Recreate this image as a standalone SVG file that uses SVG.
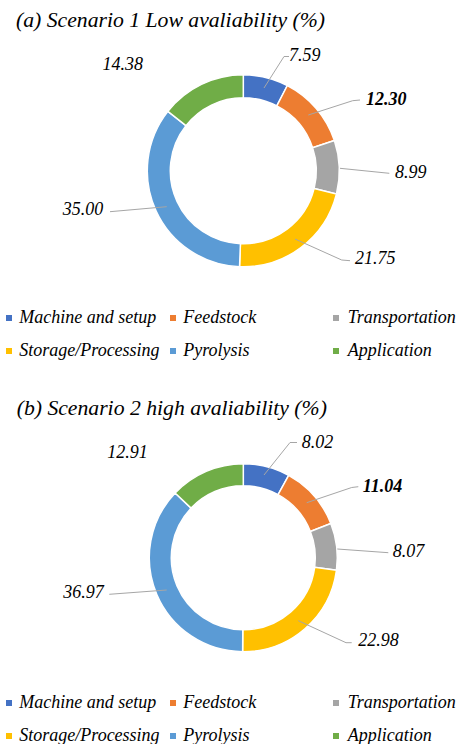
<svg xmlns="http://www.w3.org/2000/svg" width="460" height="744" viewBox="0 0 460 744">
<style>
text{font-family:'Liberation Serif','Times New Roman',Times,'DejaVu Serif',serif;font-style:italic;fill:#000}
.title{font-size:21.7px}
.lbl{font-size:18px}
.b{font-weight:bold}
.leg{font-size:18px}
.seg{stroke:#fff;stroke-width:1.5;stroke-linejoin:miter}
.lead{fill:none;stroke:#A6A6A6;stroke-width:1}
.c1{fill:#4472C4}.c2{fill:#ED7D31}.c3{fill:#A5A5A5}.c4{fill:#FFC000}.c5{fill:#5B9BD5}.c6{fill:#70AD47}
</style>
<rect width="460" height="744" fill="#fff"/>
<text class="title" x="16" y="27" font-family="Liberation Serif, serif">(a) Scenario 1 Low avaliability (%)</text>
<g id="chart1">
<path id="c1-machine" class="seg c1" d="M243.3,74.8 A96,96 0 0 1 287.36,85.51 L276.8,105.94 A73,73 0 0 0 243.3,97.8 Z"/>
<path id="c1-feedstock" class="seg c2" d="M287.36,85.51 A96,96 0 0 1 334.39,140.5 L312.57,147.76 A73,73 0 0 0 276.8,105.94 Z"/>
<path id="c1-transport" class="seg c3" d="M334.39,140.5 A96,96 0 0 1 336.47,193.96 L314.14,188.41 A73,73 0 0 0 312.57,147.76 Z"/>
<path id="c1-storage" class="seg c4" d="M336.47,193.96 A96,96 0 0 1 239.53,266.73 L240.43,243.74 A73,73 0 0 0 314.14,188.41 Z"/>
<path id="c1-pyrolysis" class="seg c5" d="M239.53,266.73 A96,96 0 0 1 167.9,111.38 L185.96,125.62 A73,73 0 0 0 240.43,243.74 Z"/>
<path id="c1-application" class="seg c6" d="M167.9,111.38 A96,96 0 0 1 243.3,74.8 L243.3,97.8 A73,73 0 0 0 185.96,125.62 Z"/>
</g>
<g id="chart2">
<path id="c2-machine" class="seg c1" d="M243.3,463.7 A94,94 0 0 1 288.69,475.38 L278.06,494.65 A72,72 0 0 0 243.3,485.7 Z"/>
<path id="c2-feedstock" class="seg c2" d="M288.69,475.38 A94,94 0 0 1 330.83,523.43 L310.35,531.45 A72,72 0 0 0 278.06,494.65 Z"/>
<path id="c2-transport" class="seg c3" d="M330.83,523.43 A94,94 0 0 1 336.46,570.26 L314.65,567.32 A72,72 0 0 0 310.35,531.45 Z"/>
<path id="c2-storage" class="seg c4" d="M336.46,570.26 A94,94 0 0 1 242.63,651.7 L242.78,629.7 A72,72 0 0 0 314.65,567.32 Z"/>
<path id="c2-pyrolysis" class="seg c5" d="M242.63,651.7 A94,94 0 0 1 175.14,492.97 L191.09,508.12 A72,72 0 0 0 242.78,629.7 Z"/>
<path id="c2-application" class="seg c6" d="M175.14,492.97 A94,94 0 0 1 243.3,463.7 L243.3,485.7 A72,72 0 0 0 191.09,508.12 Z"/>
</g>
<g id="connectors">
<polyline class="lead" points="289,56.5 284,56.5 264,88"/>
<polyline class="lead" points="360,100 352.7,100.7 308.3,115"/>
<polyline class="lead" points="389.3,173.3 340,168.3"/>
<polyline class="lead" points="350,260.7 341.7,260 295,239"/>
<polyline class="lead" points="110,211.7 166.7,206.7"/>
<polyline class="lead" points="297,442.5 290,442.5 264,475"/>
<polyline class="lead" points="358.3,486.7 351.7,487.5 306.7,502.7"/>
<polyline class="lead" points="388.3,552.7 337.3,549"/>
<polyline class="lead" points="351.7,642.7 346,642.7 298.3,620.7"/>
<polyline class="lead" points="109.3,594.3 166.7,590"/>
</g>
<g id="labels1">
<text class="lbl" x="289" y="61">7.59</text>
<text class="lbl b" x="366" y="105">12.30</text>
<text class="lbl" x="395" y="178.3">8.99</text>
<text class="lbl" x="355" y="264">21.75</text>
<text class="lbl" x="62.7" y="215">35.00</text>
<text class="lbl" x="102.5" y="70">14.38</text>
</g>
<g id="legend1">
<rect class="c1" x="6" y="315" width="6" height="6"/>
<text class="leg" x="19.3" y="323.3">Machine and setup</text>
<rect class="c2" x="170" y="315" width="6" height="6"/>
<text class="leg" x="183.3" y="323.3">Feedstock</text>
<rect class="c3" x="333" y="315" width="6" height="6"/>
<text class="leg" x="347.7" y="323.3">Transportation</text>
<rect class="c4" x="6" y="348" width="6" height="6"/>
<text class="leg" x="19.3" y="355.5">Storage/Processing</text>
<rect class="c5" x="170" y="348" width="6" height="6"/>
<text class="leg" x="183.3" y="355.5">Pyrolysis</text>
<rect class="c6" x="333" y="348" width="6" height="6"/>
<text class="leg" x="347.7" y="355.5">Application</text>
</g>
<text class="title" x="16.7" y="415">(b) Scenario 2 high avaliability (%)</text>
<g id="labels2">
<text class="lbl" x="301.7" y="448.3">8.02</text>
<text class="lbl b" x="362.7" y="491.7">11.04</text>
<text class="lbl" x="392.7" y="557.3">8.07</text>
<text class="lbl" x="358.3" y="645.7">22.98</text>
<text class="lbl" x="63.3" y="598.3">36.97</text>
<text class="lbl" x="107.3" y="458.3">12.91</text>
</g>
<g id="legend2">
<rect class="c1" x="6" y="700" width="6" height="6"/>
<text class="leg" x="19.3" y="708.3">Machine and setup</text>
<rect class="c2" x="170" y="700" width="6" height="6"/>
<text class="leg" x="183.3" y="708.3">Feedstock</text>
<rect class="c3" x="333" y="700" width="6" height="6"/>
<text class="leg" x="347.7" y="708.3">Transportation</text>
<rect class="c4" x="6" y="733" width="6" height="6"/>
<text class="leg" x="19.3" y="740.5">Storage/Processing</text>
<rect class="c5" x="170" y="733" width="6" height="6"/>
<text class="leg" x="183.3" y="740.5">Pyrolysis</text>
<rect class="c6" x="333" y="733" width="6" height="6"/>
<text class="leg" x="347.7" y="740.5">Application</text>
</g>
</svg>
